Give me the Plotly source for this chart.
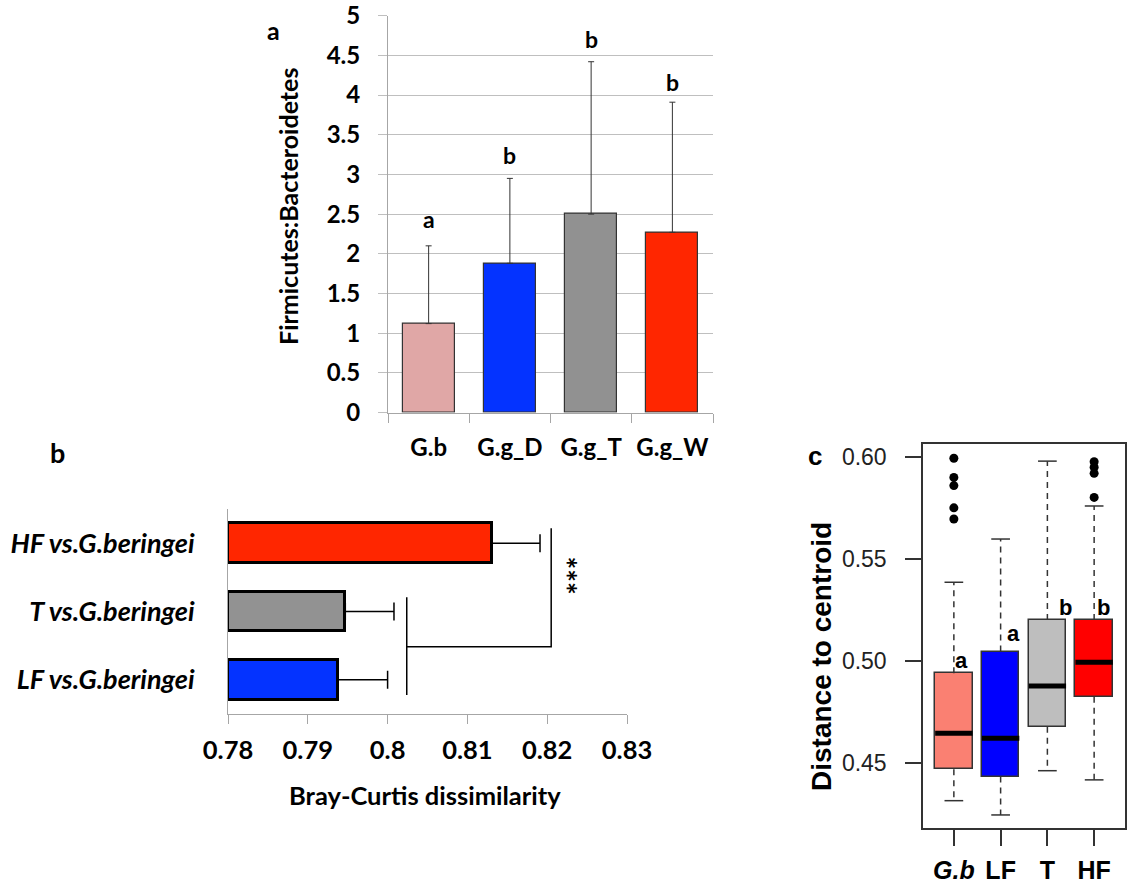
import plotly.graph_objects as go

# ---------------- Panel a data ----------------
a_categories = ["G.b", "G.g_D", "G.g_T", "G.g_W"]
a_values = [1.12, 1.88, 2.50, 2.27]
a_errors = [0.98, 1.07, 1.92, 1.64]
a_letters = ["a", "b", "b", "b"]
a_letter_y = [2.44, 3.25, 4.71, 4.17]
a_colors = ["#E0A7A6", "#0433FF", "#919191", "#FF2600"]
a_yticks = [0, 0.5, 1, 1.5, 2, 2.5, 3, 3.5, 4, 4.5, 5]

# ---------------- Panel b data ----------------
b_labels = ["LF vs.G.beringei", "T vs.G.beringei", "HF vs.G.beringei"]
b_values = [0.7938, 0.7947, 0.8131]
b_errors = [0.0062, 0.0061, 0.0060]
b_colors = ["#0433FF", "#929292", "#FF2600"]
b_xticks = [0.78, 0.79, 0.80, 0.81, 0.82, 0.83]
b_xticktext = ["0.78", "0.79", "0.8", "0.81", "0.82", "0.83"]
b_base = 0.78
b_bracket_inner_x = 0.8024
b_bracket_outer_x = 0.8205
b_sig = "***"

# ---------------- Panel c data ----------------
c_groups = ["G.b", "LF", "T", "HF"]
c_ticktext = ["<i>G.b</i>", "LF", "T", "HF"]
c_q1 = [0.4469, 0.4433, 0.4678, 0.4825]
c_median = [0.4646, 0.4621, 0.4877, 0.4994]
c_q3 = [0.4940, 0.5046, 0.5201, 0.5201]
c_lower = [0.4315, 0.4245, 0.4462, 0.4417]
c_upper = [0.5386, 0.5598, 0.5980, 0.5760]
c_outliers = [[0.5994, 0.5900, 0.5860, 0.5751, 0.5696], [], [], [0.5977, 0.5950, 0.5920, 0.5802]]
c_colors = ["#FA8072", "#0000FF", "#BEBEBE", "#FF0000"]
c_letters = ["a", "a", "b", "b"]
c_letter_y = [0.500, 0.5137, 0.526, 0.526]
c_letter_dx = [0.17, 0.28, 0.38, 0.19]
c_yticks = [0.45, 0.50, 0.55, 0.60]
c_yticktext = ["0.45", "0.50", "0.55", "0.60"]

# the page's body margin is removed (post_script), so the figure fills the window
W, H = 1127, 888
FA = "Lato"
FC = "Liberation Sans"


def px_x(p):
    return p / W


def px_y(p):
    return 1 - p / H


fig = go.Figure()

# ---- Panel a bars ----
fig.add_trace(go.Bar(
    x=a_categories, y=a_values, width=0.64,
    marker=dict(color=a_colors, line=dict(color="#333333", width=1.2)),
    error_y=dict(type="data", array=a_errors, arrayminus=[0] * len(a_errors), symmetric=False,
                 color="#333333", thickness=1, width=3),
    xaxis="x", yaxis="y", showlegend=False,
))

# ---- Panel b bars ----
fig.add_trace(go.Bar(
    y=list(range(len(b_labels))), x=[v - b_base for v in b_values], base=b_base,
    orientation="h", width=0.585,
    marker=dict(color=b_colors, line=dict(color="#000000", width=3)),
    error_x=dict(type="data", array=b_errors, arrayminus=[0] * len(b_errors), symmetric=False,
                 color="#000000", thickness=1.5, width=9),
    xaxis="x2", yaxis="y2", showlegend=False,
))
fig.add_trace(go.Scatter(
    x=[b_bracket_inner_x, b_bracket_inner_x, None, b_bracket_inner_x, b_bracket_outer_x, b_bracket_outer_x],
    y=[1.207, -0.222, None, 0.485, 0.485, 2.217],
    mode="lines", line=dict(color="#000000", width=1.5),
    xaxis="x2", yaxis="y2", showlegend=False, hoverinfo="skip",
))

# ---- Panel c boxes ----
xs = list(range(len(c_groups)))
cap = 0.2
half = 0.4
wx, wy, cx, cy, mx, my = [], [], [], [], [], []
for i in xs:
    wx += [i, i, None, i, i, None]
    wy += [c_q3[i], c_upper[i], None, c_q1[i], c_lower[i], None]
    cx += [i - cap, i + cap, None, i - cap, i + cap, None]
    cy += [c_upper[i], c_upper[i], None, c_lower[i], c_lower[i], None]
    mx += [i - half, i + half, None]
    my += [c_median[i], c_median[i], None]

fig.add_trace(go.Scatter(x=wx, y=wy, mode="lines",
                         line=dict(color="#333333", width=1.5, dash="6px,5px"),
                         xaxis="x3", yaxis="y3", showlegend=False, hoverinfo="skip"))
fig.add_trace(go.Scatter(x=cx, y=cy, mode="lines",
                         line=dict(color="#333333", width=1.5),
                         xaxis="x3", yaxis="y3", showlegend=False, hoverinfo="skip"))
fig.add_trace(go.Bar(
    x=xs, y=[c_q3[i] - c_q1[i] for i in xs], base=c_q1, width=2 * half,
    marker=dict(color=c_colors, line=dict(color="#333333", width=1.5)),
    xaxis="x3", yaxis="y3", showlegend=False,
))
fig.add_trace(go.Scatter(x=mx, y=my, mode="lines",
                         line=dict(color="#000000", width=5),
                         xaxis="x3", yaxis="y3", showlegend=False, hoverinfo="skip"))
ox, oy = [], []
for i in xs:
    for v in c_outliers[i]:
        ox.append(i)
        oy.append(v)
fig.add_trace(go.Scatter(x=ox, y=oy, mode="markers",
                         marker=dict(color="#000000", size=9),
                         xaxis="x3", yaxis="y3", showlegend=False))

C = dict(xanchor="center", yanchor="middle", showarrow=False)
annotations = []
for c, l, y in zip(a_categories, a_letters, a_letter_y):
    annotations.append(dict(x=c, y=y, xref="x", yref="y", text=l, **C,
                            font=dict(family=FA, size=23, color="#000", weight="bold")))
for i, (l, y, dx) in enumerate(zip(c_letters, c_letter_y, c_letter_dx)):
    annotations.append(dict(x=i + dx, y=y, xref="x3", yref="y3", text=l, **C,
                            font=dict(family=FC, size=22, color="#000", weight="bold")))
annotations.append(dict(x=0.8223, y=1.534, xref="x2", yref="y2", text=b_sig, **C,
                        textangle=90, font=dict(family=FA, size=30, color="#000", weight="bold")))
annotations += [
    dict(x=px_x(273), y=px_y(30), xref="paper", yref="paper", text="a", **C,
         font=dict(family=FA, size=25, color="#000", weight="bold")),
    dict(x=px_x(57), y=px_y(452), xref="paper", yref="paper", text="b", **C,
         font=dict(family=FA, size=27, color="#000", weight="bold")),
    dict(x=px_x(815), y=px_y(456), xref="paper", yref="paper", text="c", **C,
         font=dict(family=FC, size=26, color="#000", weight="bold")),
    dict(x=px_x(288), y=px_y(207), xref="paper", yref="paper", text="Firmicutes:Bacteroidetes", **C,
         textangle=-90, font=dict(family=FA, size=25, color="#000", weight="bold")),
    dict(x=px_x(425), y=px_y(795), xref="paper", yref="paper", text="Bray-Curtis dissimilarity", **C,
         font=dict(family=FA, size=25.5, color="#000", weight="bold")),
    dict(x=px_x(821), y=px_y(657), xref="paper", yref="paper", text="Distance to centroid", **C,
         textangle=-90, font=dict(family=FC, size=28, color="#000", weight="bold")),
]

fig.update_layout(
    width=W, height=H,
    margin=dict(l=0, r=0, t=0, b=0, pad=0, autoexpand=False),
    paper_bgcolor="white", plot_bgcolor="white",
    showlegend=False,
    annotations=annotations,
    xaxis=dict(domain=[px_x(388), px_x(713)], anchor="y", type="category", automargin=False,
               categoryorder="array", categoryarray=a_categories, tickangle=0,
               tickson="boundaries", ticks="outside", ticklen=9, tickcolor="#A6A6A6",
               showline=True, linecolor="#A6A6A6", linewidth=1, showgrid=False,
               tickfont=dict(family=FA, size=24, color="#000", weight="bold"),
               ticklabelstandoff=14, ticklabeloverflow="allow"),
    yaxis=dict(domain=[px_y(412.5), px_y(15.7)], anchor="x", range=[0, 5], automargin=False,
               tickvals=a_yticks, ticks="outside", ticklen=9, tickcolor="#BFBFBF",
               showgrid=True, gridcolor="#BFBFBF", gridwidth=1, zeroline=False,
               showline=True, linecolor="#A6A6A6", linewidth=1, tickangle=0,
               tickfont=dict(family=FA, size=24, color="#000", weight="bold"),
               ticklabelstandoff=13, ticklabeloverflow="allow"),
    xaxis2=dict(domain=[px_x(228), px_x(627)], anchor="y2", range=[0.78, 0.83], automargin=False,
                tickvals=b_xticks, ticktext=b_xticktext, ticks="outside", ticklen=9, tickangle=0,
                tickcolor="#A6A6A6", showline=True, linecolor="#A6A6A6", showgrid=False,
                zeroline=False,
                tickfont=dict(family=FA, size=25.5, color="#000", weight="bold"),
                ticklabelstandoff=4, ticklabeloverflow="allow"),
    yaxis2=dict(domain=[px_y(714), px_y(509)], anchor="x2", range=[-0.5, 2.5], automargin=False,
                tickvals=[0, 1, 2], ticktext=b_labels, ticks="", showline=True, tickangle=0,
                linecolor="#A6A6A6", showgrid=False, zeroline=False,
                tickfont=dict(family=FA, size=27, color="#000", weight="bold", style="italic"),
                ticklabelstandoff=27, ticklabeloverflow="allow"),
    yaxis4=dict(domain=[px_y(714), px_y(509)], anchor="x2", overlaying="y2", range=[-0.5, 2.5],
                automargin=False,
                tickvals=[-0.5, 0.5, 1.5, 2.5], ticks="outside", ticklen=9, tickcolor="#A6A6A6",
                showticklabels=False, showgrid=False, zeroline=False, showline=False),
    xaxis3=dict(domain=[px_x(923), px_x(1125)], anchor="y3", range=[-0.66, 3.66], automargin=False,
                tickvals=xs, ticktext=c_ticktext, ticks="outside", ticklen=16, tickcolor="#333333",
                tickwidth=1.5, showline=True, mirror=True, linecolor="#333333", linewidth=1.5,
                showgrid=False, zeroline=False, tickangle=0,
                tickfont=dict(family=FC, size=25, color="#000", weight="bold"),
                ticklabelstandoff=3, ticklabeloverflow="allow"),
    yaxis3=dict(domain=[px_y(828), px_y(444)], anchor="x3", range=[0.4181, 0.6064], automargin=False,
                tickvals=c_yticks, ticktext=c_yticktext, ticks="outside", ticklen=16,
                tickcolor="#333333", tickwidth=1.5, showline=True, mirror=True,
                linecolor="#333333", linewidth=1.5, showgrid=False, zeroline=False, tickangle=0,
                tickfont=dict(family=FC, size=23, color="#222"),
                ticklabelstandoff=14, ticklabeloverflow="allow"),
    bargap=0,
)

fig.write_html("out.html", config={"displayModeBar": False},
               post_script="document.body.style.margin='0';")
